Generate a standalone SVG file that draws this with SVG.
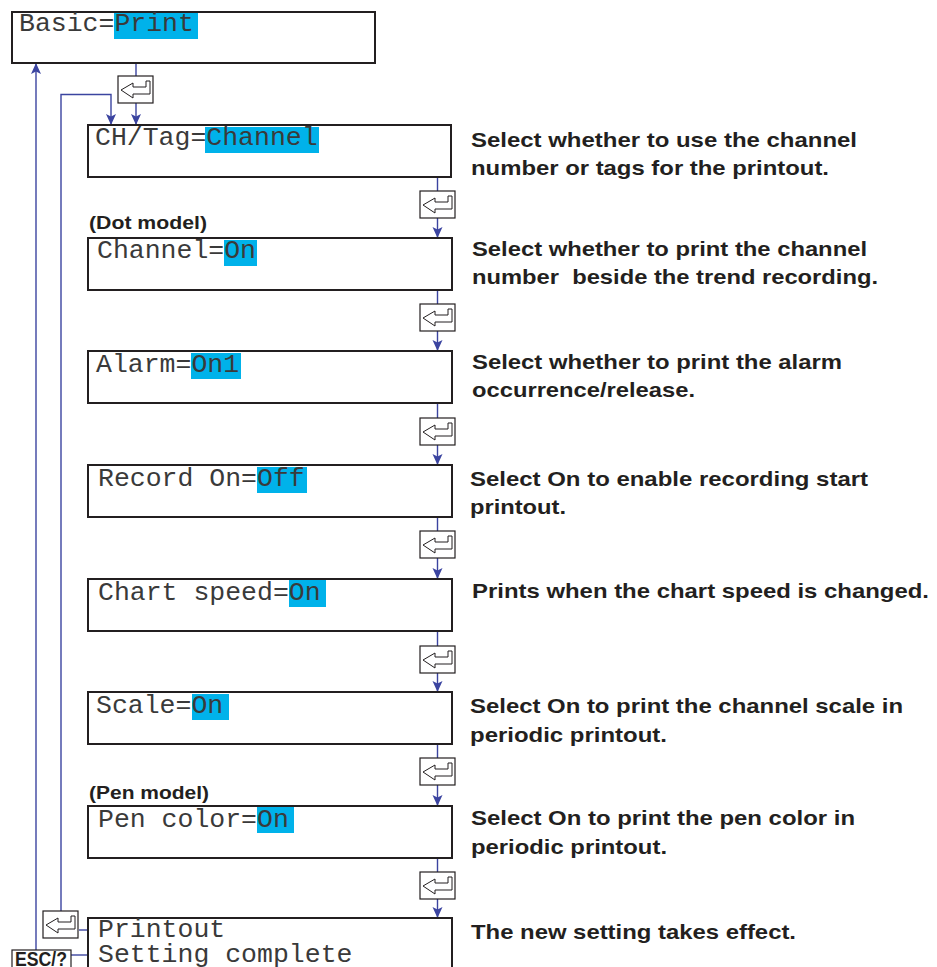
<svg xmlns="http://www.w3.org/2000/svg" xmlns:xlink="http://www.w3.org/1999/xlink" width="937" height="967" viewBox="0 0 937 967">
<style>
.box{fill:#fff;stroke:#231f20;stroke-width:2}
.hl{fill:#00b2ea}
.mono{font-family:"Liberation Mono","Courier New",monospace;font-size:26.5px;fill:#3a3a3a}
.desc{font-family:"Liberation Sans",Arial,Helvetica,sans-serif;font-weight:bold;font-size:21px;fill:#231f20}
.note{font-family:"Liberation Sans",Arial,Helvetica,sans-serif;font-weight:bold;font-size:18.5px;fill:#231f20}
.con{fill:none;stroke:#3b44a0;stroke-width:1.4}
.key{fill:#fff;stroke:#231f20;stroke-width:1.2}
.keyarrow{fill:none;stroke:#231f20;stroke-width:1}
</style>
<defs>
<marker id="ah" markerUnits="userSpaceOnUse" markerWidth="12" markerHeight="12" refX="11" refY="6" orient="auto">
<path d="M0,1 L11,6 L0,11 L2.5,6 Z" fill="#3b44a0"/>
</marker>
<g id="enter">
<rect class="key" x="0" y="0" width="35" height="27"/>
<path class="keyarrow" d="M3,14 L15,7 L15,11 L28,11 L28,5 L32,5 L32,18 L15,18 L15,22 Z"/>
</g>
</defs>
<rect width="937" height="967" fill="#fff"/>

<g id="connectors">
<line class="con" x1="136" y1="63" x2="136" y2="125" marker-end="url(#ah)"/>
<path class="con" d="M61,911 V94.5 H111 V125" marker-end="url(#ah)"/>
<line class="con" x1="36" y1="950" x2="36" y2="63" marker-end="url(#ah)"/>
<line class="con" x1="437.5" y1="177" x2="437.5" y2="238" marker-end="url(#ah)"/>
<line class="con" x1="437.5" y1="290" x2="437.5" y2="351" marker-end="url(#ah)"/>
<line class="con" x1="437.5" y1="403" x2="437.5" y2="465" marker-end="url(#ah)"/>
<line class="con" x1="437.5" y1="517" x2="437.5" y2="579" marker-end="url(#ah)"/>
<line class="con" x1="437.5" y1="631" x2="437.5" y2="692" marker-end="url(#ah)"/>
<line class="con" x1="437.5" y1="744" x2="437.5" y2="806" marker-end="url(#ah)"/>
<line class="con" x1="437.5" y1="858" x2="437.5" y2="918" marker-end="url(#ah)"/>
<line class="con" x1="79" y1="930" x2="88" y2="930"/>
<line class="con" x1="71" y1="955" x2="88" y2="955"/>
<use xlink:href="#enter" x="118" y="76"/>
<use xlink:href="#enter" x="420" y="191"/>
<use xlink:href="#enter" x="420" y="304"/>
<use xlink:href="#enter" x="420" y="418"/>
<use xlink:href="#enter" x="420" y="531"/>
<use xlink:href="#enter" x="420" y="646"/>
<use xlink:href="#enter" x="420" y="758"/>
<use xlink:href="#enter" x="420" y="872"/>
<use xlink:href="#enter" x="43" y="911"/>
</g>

<g id="basic">
<rect class="box" x="12" y="12" width="363" height="51"/>
<rect class="hl" x="114" y="13" width="84" height="26"/>
<text class="mono" x="19" y="31">Basic=Print</text>
</g>

<g id="chtag">
<rect class="box" x="88" y="125" width="363" height="52"/>
<rect class="hl" x="205" y="127" width="114" height="26"/>
<text class="mono" x="95" y="145">CH/Tag=Channel</text>
<text class="desc" x="471" y="147" textLength="386" lengthAdjust="spacingAndGlyphs">Select whether to use the channel</text>
<text class="desc" x="471" y="175" textLength="358" lengthAdjust="spacingAndGlyphs">number or tags for the printout.</text>
</g>

<g id="channel">
<text class="note" x="89" y="229" textLength="118" lengthAdjust="spacingAndGlyphs">(Dot model)</text>
<rect class="box" x="88" y="238" width="364" height="52"/>
<rect class="hl" x="224" y="240" width="33" height="26"/>
<text class="mono" x="97" y="258">Channel=On</text>
<text class="desc" x="472" y="256" textLength="395" lengthAdjust="spacingAndGlyphs">Select whether to print the channel</text>
<text class="desc" x="472" y="284" textLength="406" lengthAdjust="spacingAndGlyphs" xml:space="preserve">number  beside the trend recording.</text>
</g>

<g id="alarm">
<rect class="box" x="88" y="351" width="364" height="52"/>
<rect class="hl" x="191" y="353" width="50" height="26"/>
<text class="mono" x="96" y="372">Alarm=On1</text>
<text class="desc" x="472" y="369" textLength="370" lengthAdjust="spacingAndGlyphs">Select whether to print the alarm</text>
<text class="desc" x="472" y="397" textLength="223" lengthAdjust="spacingAndGlyphs">occurrence/release.</text>
</g>

<g id="record">
<rect class="box" x="88" y="465" width="364" height="52"/>
<rect class="hl" x="257" y="467" width="50" height="26"/>
<text class="mono" x="98" y="486">Record On=Off</text>
<text class="desc" x="470" y="486" textLength="398" lengthAdjust="spacingAndGlyphs">Select On to enable recording start</text>
<text class="desc" x="470" y="514" textLength="96" lengthAdjust="spacingAndGlyphs">printout.</text>
</g>

<g id="chartspeed">
<rect class="box" x="88" y="579" width="364" height="52"/>
<rect class="hl" x="289" y="580" width="37" height="27"/>
<text class="mono" x="98" y="600">Chart speed=On</text>
<text class="desc" x="472" y="598" textLength="457" lengthAdjust="spacingAndGlyphs">Prints when the chart speed is changed.</text>
</g>

<g id="scale">
<rect class="box" x="88" y="692" width="364" height="52"/>
<rect class="hl" x="192" y="694" width="37" height="26"/>
<text class="mono" x="96" y="713">Scale=On</text>
<text class="desc" x="470" y="713" textLength="433" lengthAdjust="spacingAndGlyphs">Select On to print the channel scale in</text>
<text class="desc" x="470" y="742" textLength="197" lengthAdjust="spacingAndGlyphs">periodic printout.</text>
</g>

<g id="pencolor">
<text class="note" x="89" y="799" textLength="120" lengthAdjust="spacingAndGlyphs">(Pen model)</text>
<rect class="box" x="88" y="806" width="364" height="52"/>
<rect class="hl" x="257" y="807" width="37" height="26"/>
<text class="mono" x="98" y="827">Pen color=On</text>
<text class="desc" x="471" y="825" textLength="384" lengthAdjust="spacingAndGlyphs">Select On to print the pen color in</text>
<text class="desc" x="471" y="854" textLength="196" lengthAdjust="spacingAndGlyphs">periodic printout.</text>
</g>

<g id="complete">
<rect class="box" x="88" y="918" width="364" height="70"/>
<text class="mono" x="98" y="937">Printout</text>
<text class="mono" x="98" y="962">Setting complete</text>
<text class="desc" x="471" y="939" textLength="325" lengthAdjust="spacingAndGlyphs">The new setting takes effect.</text>
</g>

<g id="esc">
<rect class="key" x="12" y="950" width="59" height="30"/>
<text x="15" y="966" font-family="'Liberation Sans',Arial,sans-serif" font-weight="bold" font-size="21" fill="#231f20" textLength="52" lengthAdjust="spacingAndGlyphs">ESC/?</text>
</g>
</svg>
